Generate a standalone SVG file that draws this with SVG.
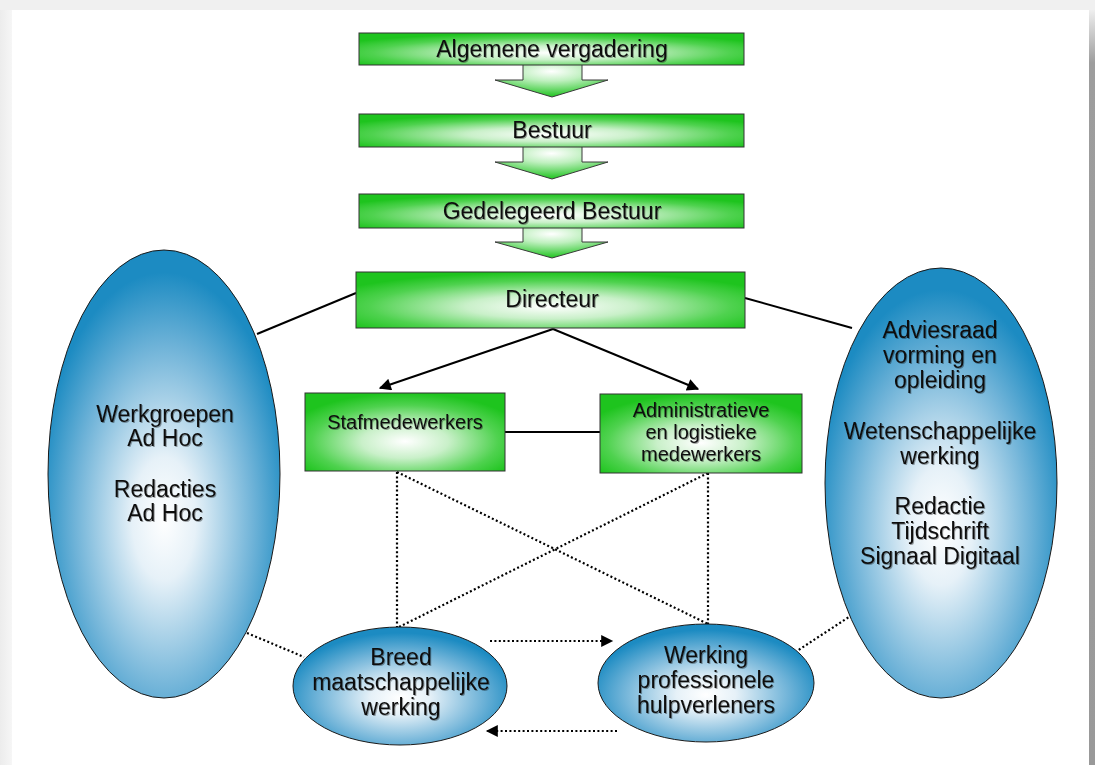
<svg xmlns="http://www.w3.org/2000/svg" width="1095" height="765" viewBox="0 0 1095 765">
<defs>
  <radialGradient id="gGreen" cx="0.5" cy="0.62" r="0.62">
    <stop offset="0" stop-color="#ffffff"/>
    <stop offset="0.35" stop-color="#c9f0c9"/>
    <stop offset="0.75" stop-color="#4fd24f"/>
    <stop offset="1" stop-color="#1ec41e"/>
  </radialGradient>
  <radialGradient id="gArrow" cx="0.5" cy="0.2" r="0.75">
    <stop offset="0" stop-color="#ffffff"/>
    <stop offset="0.4" stop-color="#bff0bf"/>
    <stop offset="1" stop-color="#2ec82e"/>
  </radialGradient>
  <radialGradient id="gBlue" cx="0.5" cy="0.6" r="0.55">
    <stop offset="0" stop-color="#ffffff"/>
    <stop offset="0.25" stop-color="#e6f1f8"/>
    <stop offset="0.7" stop-color="#6fb3d8"/>
    <stop offset="1" stop-color="#1c8bc2"/>
  </radialGradient>
  <linearGradient id="gLeftStrip" x1="0" y1="0" x2="1" y2="0">
    <stop offset="0" stop-color="#ececec"/>
    <stop offset="1" stop-color="#f6f6f6"/>
  </linearGradient>
  <linearGradient id="gRightStrip" x1="0" y1="0" x2="0" y2="1">
    <stop offset="0" stop-color="#eeeeee"/>
    <stop offset="0.07" stop-color="#9d9d9d"/>
    <stop offset="1" stop-color="#999999"/>
  </linearGradient>
  <filter id="shadow" x="-10%" y="-20%" width="120%" height="150%">
    <feDropShadow dx="1" dy="1" stdDeviation="0.7" flood-color="#000000" flood-opacity="0.35"/>
  </filter>
  <marker id="arrowBig" viewBox="0 0 10 10" refX="9" refY="5" markerWidth="14" markerHeight="12" markerUnits="userSpaceOnUse" orient="auto">
    <path d="M0,0 L10,5 L0,10 z" fill="#000"/>
  </marker>
</defs>
<style>
  .box { fill: url(#gGreen); stroke: #333; stroke-width: 1; }
  .barrow { fill: url(#gArrow); stroke: #3a3a3a; stroke-width: 1; }
  .oval { fill: url(#gBlue); stroke: #1a1a1a; stroke-width: 1; }
  .t { font-family: "Liberation Sans", Arial, sans-serif; fill: #111; text-anchor: middle; filter: url(#shadow); }
  .tb { font-size: 23px; }
  .ts { font-size: 20px; }
  .te { font-size: 23px; }
  .solid { stroke: #000; stroke-width: 2; fill: none; }
  .dot { stroke: #000; stroke-width: 2.2; stroke-dasharray: 2 2.4; fill: none; }
</style>

<!-- frame -->
<rect x="0" y="0" width="1095" height="765" fill="#f0f0f0"/>
<rect x="0" y="10" width="12" height="755" fill="url(#gLeftStrip)"/>
<rect x="12" y="10" width="1078" height="755" fill="#ffffff"/>
<rect x="1089" y="10" width="6" height="755" fill="url(#gRightStrip)"/>

<!-- connectors -->
<g id="connectors">
  <line class="solid" x1="356" y1="293" x2="257" y2="334"/>
  <line class="solid" x1="745" y1="298" x2="852" y2="328"/>
  <line class="solid" x1="553" y1="329" x2="380" y2="388" marker-end="url(#arrowBig)"/>
  <line class="solid" x1="553" y1="329" x2="698" y2="389" marker-end="url(#arrowBig)"/>
  <line class="solid" x1="505" y1="432" x2="600" y2="432"/>
  <line class="dot" x1="397" y1="472" x2="397" y2="627"/>
  <line class="dot" x1="397" y1="472" x2="708" y2="624"/>
  <line class="dot" x1="708" y1="473" x2="708" y2="624"/>
  <line class="dot" x1="708" y1="473" x2="399" y2="627"/>
  <line class="dot" x1="247" y1="633" x2="304" y2="657"/>
  <line class="dot" x1="852" y1="615" x2="797" y2="651"/>
  <line class="dot" x1="490" y1="641" x2="612" y2="641" marker-end="url(#arrowBig)"/>
  <line class="dot" x1="617" y1="731" x2="487" y2="731" marker-end="url(#arrowBig)"/>
</g>

<!-- block arrows -->
<g id="blockArrows">
  <path class="barrow" d="M523,65 L523,80 L495,80 L552,97 L608,80 L582,80 L582,65"/>
  <path class="barrow" d="M523,147 L523,162 L495,162 L552,179 L608,162 L582,162 L582,147"/>
  <path class="barrow" d="M523,228 L523,242 L495,242 L552,258 L608,242 L582,242 L582,228"/>
</g>

<g id="algemene">
  <rect class="box" x="359" y="33" width="385" height="32"/>
  <text class="t tb" x="552" y="57">Algemene vergadering</text>
</g>
<g id="bestuur">
  <rect class="box" x="359" y="114" width="385" height="33"/>
  <text class="t tb" x="552" y="138">Bestuur</text>
</g>
<g id="gedelegeerd">
  <rect class="box" x="359" y="194" width="385" height="34"/>
  <text class="t tb" x="552" y="219">Gedelegeerd Bestuur</text>
</g>
<g id="directeur">
  <rect class="box" x="356" y="272" width="389" height="56"/>
  <text class="t tb" x="552" y="307">Directeur</text>
</g>
<g id="staf">
  <rect class="box" x="305" y="393" width="200" height="78"/>
  <text class="t ts" x="405" y="429">Stafmedewerkers</text>
</g>
<g id="admin">
  <rect class="box" x="600" y="394" width="202" height="79"/>
  <text class="t ts" x="701" y="417">Administratieve</text>
  <text class="t ts" x="701" y="439">en logistieke</text>
  <text class="t ts" x="701" y="461">medewerkers</text>
</g>

<g id="werkgroepen">
  <ellipse class="oval" cx="164" cy="474" rx="116" ry="224"/>
  <text class="t te" x="165" y="422">Werkgroepen</text>
  <text class="t te" x="165" y="446">Ad Hoc</text>
  <text class="t te" x="165" y="497">Redacties</text>
  <text class="t te" x="165" y="521">Ad Hoc</text>
</g>
<g id="adviesraad">
  <ellipse class="oval" cx="941" cy="483" rx="116" ry="215"/>
  <text class="t te" x="940" y="338">Adviesraad</text>
  <text class="t te" x="940" y="363">vorming en</text>
  <text class="t te" x="940" y="388">opleiding</text>
  <text class="t te" x="940" y="439">Wetenschappelijke</text>
  <text class="t te" x="940" y="464">werking</text>
  <text class="t te" x="940" y="514">Redactie</text>
  <text class="t te" x="940" y="539">Tijdschrift</text>
  <text class="t te" x="940" y="564">Signaal Digitaal</text>
</g>
<g id="breed">
  <ellipse class="oval" cx="400" cy="686" rx="107" ry="59"/>
  <text class="t te" x="401" y="665">Breed</text>
  <text class="t te" x="401" y="690">maatschappelijke</text>
  <text class="t te" x="401" y="715">werking</text>
</g>
<g id="werking">
  <ellipse class="oval" cx="706" cy="683" rx="108" ry="59"/>
  <text class="t te" x="706" y="663">Werking</text>
  <text class="t te" x="706" y="688">professionele</text>
  <text class="t te" x="706" y="713">hulpverleners</text>
</g>
</svg>
